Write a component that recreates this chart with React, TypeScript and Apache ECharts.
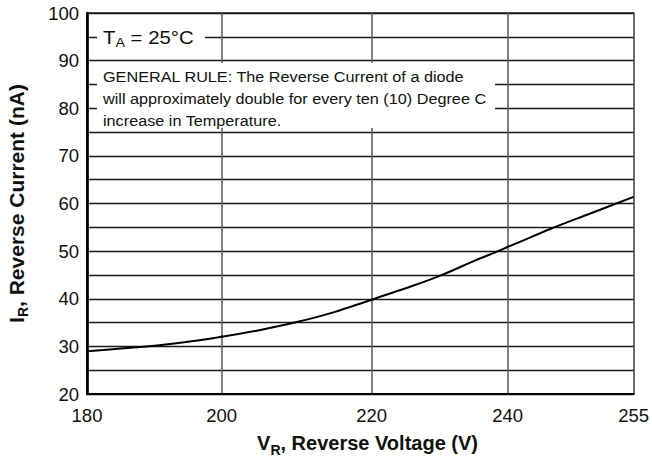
import React, { useEffect, useRef } from "react";
import * as echarts from "echarts";

// ---- data ----
const voltage = [180, 185, 190, 195, 200, 205, 210, 215, 220, 225, 230, 235, 240, 245, 250, 255];
const current = [29.0, 29.55, 30.15, 30.95, 32.0, 33.4, 35.1, 37.2, 39.8, 42.2, 44.8, 47.9, 50.9, 54.6, 58.0, 61.4];
const xTicks = [180, 200, 220, 240, 255];
const yTicks = [20, 30, 40, 50, 60, 70, 80, 90, 100];

const xTitle = "{b|V}{s|R}{b|, Reverse Voltage (V)}";
const yTitle = "{b|I}{s|R}{b|, Reverse Current (nA)}";
const tempLabel = "{t|T}{s|A}{t| = 25°C}";
const ruleLines = [
  "GENERAL RULE: The Reverse Current of a diode",
  "will approximately double for every ten (10) Degree C",
  "increase in Temperature.",
];

// ---- layout ----
const W = 652;
const H = 466;
const plotTop = 13;
const plotBottom = 394;
// pixel positions of the x ticks in the reference (the scale is piecewise)
const tickPx = [87, 221.7, 371.7, 507.7, 634];
const FONT = '"Liberation Sans", Arial, Helvetica, sans-serif';
const TXT = "#111";

function buildOption() {
  const grids: any[] = [];
  const xAxes: any[] = [];
  const yAxes: any[] = [];
  const series: any[] = [];
  const yMin = yTicks[0];
  const yMax = yTicks[yTicks.length - 1];
  const yStep = yTicks[1] - yTicks[0];

  for (let i = 0; i < xTicks.length - 1; i++) {
    const lo = xTicks[i];
    const hi = xTicks[i + 1];
    grids.push({
      left: tickPx[i],
      width: tickPx[i + 1] - tickPx[i],
      top: plotTop,
      bottom: H - plotBottom,
    });
    xAxes.push({
      type: "value",
      gridIndex: i,
      min: lo,
      max: hi,
      interval: hi - lo,
      axisLine: { show: true, onZero: false, lineStyle: { color: "#000", width: 2.2 } },
      axisTick: { show: false },
      axisLabel: {
        show: true,
        showMinLabel: i === 0,
        showMaxLabel: true,
        fontSize: 18.5,
        color: TXT,
        fontFamily: FONT,
        margin: 12,
      },
      splitLine: {
        show: i < xTicks.length - 2,
        showMinLine: false,
        showMaxLine: true,
        lineStyle: { color: "#5a5a5a", width: 1.5 },
      },
    });
    const yAxis: any = {
      type: "value",
      gridIndex: i,
      min: yMin,
      max: yMax,
      interval: yStep,
      axisLine: { show: i === 0, onZero: false, lineStyle: { color: "#000", width: 2.7 } },
      axisTick: { show: false },
      minorTick: { show: false, splitNumber: 2 },
      axisLabel: {
        show: i === 0,
        fontSize: 18.5,
        color: TXT,
        fontFamily: FONT,
        margin: 8,
      },
      splitLine: { show: true, lineStyle: { color: "#1a1a1a", width: 1.3 } },
      minorSplitLine: { show: true, lineStyle: { color: "#1a1a1a", width: 1.3 } },
    };
    if (i === 0) {
      yAxis.name = yTitle;
      yAxis.nameLocation = "middle";
      yAxis.nameGap = 57;
      yAxis.nameTextStyle = {
        fontFamily: FONT,
        fontWeight: "bold",
        fontSize: 21,
        color: TXT,
        rich: {
          b: { fontFamily: FONT, fontWeight: "bold", fontSize: 21, color: TXT },
          s: { fontFamily: FONT, fontWeight: "bold", fontSize: 14, color: TXT, padding: [14, 0, 0, 0] },
        },
      };
    }
    yAxes.push(yAxis);

    // points inside this segment plus one neighbour on each side (clipped by the grid)
    let first = voltage.findIndex((v) => v >= lo);
    let last = voltage.length - 1;
    for (let k = voltage.length - 1; k >= 0; k--) {
      if (voltage[k] <= hi) { last = k; break; }
    }
    first = Math.max(0, first - 1);
    last = Math.min(voltage.length - 1, last + 1);
    const data: number[][] = [];
    for (let k = first; k <= last; k++) data.push([voltage[k], current[k]]);

    series.push({
      type: "line",
      xAxisIndex: i,
      yAxisIndex: i,
      data,
      smooth: 0.4,
      showSymbol: false,
      clip: true,
      lineStyle: { color: "#000", width: 2 },
      z: 5,
    });
  }

  // outer frame + x-axis title
  const frame = xTicks.length - 1;
  grids.push({
    left: tickPx[0],
    right: W - tickPx[tickPx.length - 1],
    top: plotTop,
    bottom: H - plotBottom,
    show: true,
    borderColor: "#222",
    borderWidth: 1.3,
    backgroundColor: "rgba(0,0,0,0)",
  });
  xAxes.push({
    type: "value",
    gridIndex: frame,
    min: 0,
    max: 1,
    axisLine: { show: false },
    axisTick: { show: false },
    axisLabel: { show: false },
    splitLine: { show: false },
    name: xTitle,
    nameLocation: "middle",
    nameGap: 35,
    nameTextStyle: {
      fontFamily: FONT,
      fontWeight: "bold",
      fontSize: 20,
      color: TXT,
      padding: [0, 0, 0, 14],
      rich: {
        b: { fontFamily: FONT, fontWeight: "bold", fontSize: 20, color: TXT },
        s: { fontFamily: FONT, fontWeight: "bold", fontSize: 14, color: TXT, padding: [14, 0, 0, 0] },
      },
    },
  });
  yAxes.push({
    type: "value",
    gridIndex: frame,
    min: 0,
    max: 1,
    show: false,
  });

  const graphic = [
    {
      type: "rect",
      z: 50,
      shape: { x: 97, y: 27, width: 108, height: 21 },
      style: { fill: "#fff" },
    },
    {
      type: "text",
      z: 51,
      x: 103,
      y: 37,
      scaleX: 1.1,
      style: {
        text: tempLabel,
        align: "left",
        verticalAlign: "middle",
        fill: TXT,
        rich: {
          t: { fontFamily: FONT, fontSize: 18.5, fill: TXT, color: TXT },
          s: { fontFamily: FONT, fontSize: 13, fill: TXT, color: TXT, padding: [11, 0, 0, 0] },
        },
      },
    },
    {
      type: "rect",
      z: 50,
      shape: { x: 97, y: 63, width: 398, height: 65 },
      style: { fill: "#fff" },
    },
    {
      type: "text",
      z: 51,
      x: 103,
      y: 98.8,
      scaleX: 1.12,
      style: {
        text: ruleLines.join("\n"),
        align: "left",
        verticalAlign: "middle",
        fontFamily: FONT,
        fontSize: 14.5,
        lineHeight: 21.7,
        fill: TXT,
      },
    },
  ];

  return {
    animation: false,
    backgroundColor: "#fff",
    grid: grids,
    xAxis: xAxes,
    yAxis: yAxes,
    series,
    graphic,
  };
}

export default function App() {
  const ref = useRef<HTMLDivElement>(null);
  useEffect(() => {
    if (!ref.current) return;
    const chart = echarts.init(ref.current, undefined, { renderer: "svg" });
    chart.setOption(buildOption() as any);
    return () => chart.dispose();
  }, []);
  return (
    <div
      ref={ref}
      style={{ position: "absolute", left: 0, top: 0, width: W, height: H }}
    />
  );
}
